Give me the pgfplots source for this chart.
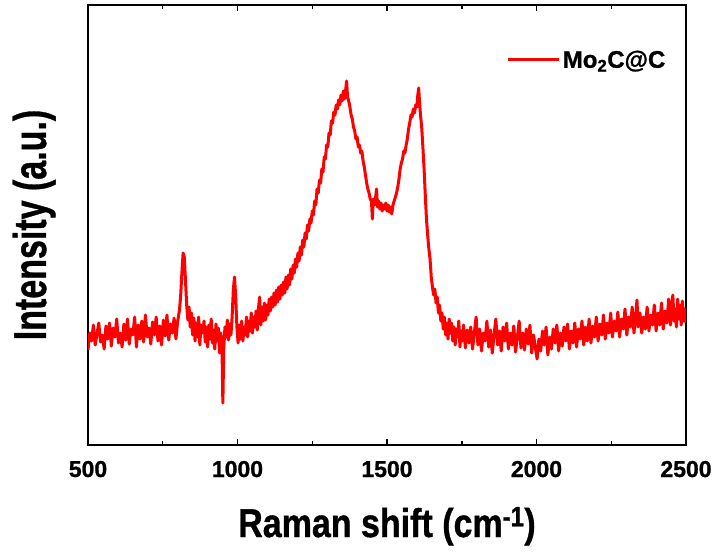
\documentclass[border=0pt]{standalone}
\usepackage{pgfplots}
\pgfplotsset{compat=1.18}
\usepackage{graphicx}
\usepackage{fontspec}
\setmainfont{Liberation Sans}
\newfontfamily\heavy[BoldFeatures={FakeBold=1}]{Liberation Sans}
\begin{document}
\begin{tikzpicture}
\path[use as bounding box] (-88pt,-107pt) rectangle (629pt,445pt);
\begin{axis}[
  at={(0pt,0pt)}, anchor=south west,
  scale only axis, width=598pt, height=440pt,
  xmin=500, xmax=2500, ymin=0, ymax=440,
  xtick={500,1000,1500,2000,2500},
  minor xtick={750,1250,1750,2250},
  ytick=\empty,
  minor ytick={23.1579,46.3158,...,430},
  tick align=inside,
  major tick length=6pt, minor tick length=4pt,
  tick style={line width=1.5pt, black},
  axis line style={line width=2.6pt},
  xtick pos=both, ytick pos=both,
  /pgf/number format/assume math mode=true,
  /pgf/number format/1000 sep={},
  xticklabel style={font=\fontsize{23}{23}\selectfont\heavy\bfseries, anchor=base, yshift=-32pt},
  xlabel={\scalebox{1}[1.18]{Raman shift (cm\textsuperscript{-1})}},
  xlabel style={font=\fontsize{34}{34}\selectfont\heavy\bfseries, at={(axis description cs:0.5,0)}, anchor=base, yshift=-92pt},
  ylabel={\scalebox{1}[1.35]{Intensity (a.u.)}},
  ylabel style={font=\fontsize{34}{34}\selectfont\heavy\bfseries, at={(axis description cs:0,0.5)}, anchor=base, yshift=42pt},
  legend style={draw=none, fill=none, at={(axis description cs:0.700,0.875)}, anchor=west, inner sep=0pt,
    font=\fontsize{24}{24}\selectfont\heavy\bfseries},
  legend cell align=left,
  legend image code/.code={\draw[#1] (0pt,0pt) -- (51pt,0pt);},
]
\addplot[color=red, line width=3pt, line join=round, mark=none] table {
x y
500 95
506 112
512 104
518 120
524 100
530 111
536 122
542 103
548 110
554 96
560 119
566 106
572 122
578 99
584 117
590 108
596 126
602 102
608 112
614 98
620 121
626 105
632 126
638 101
644 116
650 110
656 128
662 98
668 120
674 106
680 124
686 103
692 130
698 108
704 117
710 101
716 123
722 110
728 128
734 104
740 119
746 100
752 125
758 109
764 130
770 105
776 121
782 112
788 127
794 106
800 124
806 135
810 150
814 172
818 192
822 188
826 165
830 140
834 125
838 138
842 118
846 132
850 110
854 127
858 104
862 122
866 108
870 128
874 100
878 120
884 112
888 124
892 103
896 118
900 98
904 120
908 106
912 126
916 102
920 115
924 96
928 121
932 104
936 117
940 92
944 112
948 100
951 42
954 96
958 118
962 108
966 125
970 105
974 121
978 110
982 128
986 155
990 168
994 148
998 118
1002 102
1006 120
1010 106
1014 124
1018 104
1022 118
1026 110
1030 128
1034 108
1038 124
1042 114
1046 132
1050 112
1054 128
1058 118
1062 134
1066 115
1070 136
1074 148
1078 120
1082 138
1086 124
1090 142
1094 125
1098 140
1102 130
1106 146
1110 134
1114 148
1118 138
1122 152
1126 140
1130 155
1134 143
1138 158
1142 146
1146 160
1150 150
1154 163
1158 152
1162 168
1166 156
1170 170
1174 160
1178 176
1182 166
1186 180
1190 172
1194 186
1198 178
1202 192
1206 184
1210 198
1214 190
1218 205
1222 198
1226 212
1230 206
1234 220
1238 214
1242 226
1246 222
1250 234
1254 230
1258 244
1262 240
1266 256
1270 252
1274 265
1278 262
1282 276
1286 273
1290 288
1294 286
1298 300
1302 298
1306 312
1310 310
1314 324
1318 322
1322 333
1326 330
1330 340
1334 336
1338 345
1342 340
1346 350
1350 344
1354 354
1358 346
1362 356
1365 364
1368 348
1372 344
1376 338
1380 330
1384 326
1388 318
1392 314
1396 306
1400 308
1404 298
1408 300
1412 292
1416 294
1420 284
1424 278
1428 270
1432 262
1436 256
1440 252
1444 246
1448 244
1451 226
1454 246
1458 240
1462 248
1465 256
1468 238
1472 244
1476 236
1480 242
1484 234
1488 240
1492 236
1496 242
1500 234
1504 240
1508 233
1512 238
1516 231
1520 240
1524 244
1528 248
1532 252
1536 258
1540 266
1544 276
1548 282
1552 286
1556 294
1560 292
1564 300
1568 306
1572 316
1576 322
1580 330
1584 328
1588 336
1592 332
1596 340
1600 338
1603 350
1606 357
1609 342
1612 330
1616 318
1620 298
1624 276
1628 250
1632 226
1636 210
1640 196
1644 186
1648 168
1652 158
1656 150
1660 156
1664 142
1668 148
1672 132
1676 140
1680 124
1684 132
1688 116
1692 128
1696 110
1700 122
1704 106
1708 126
1712 112
1716 122
1720 104
1724 118
1728 100
1732 116
1736 108
1740 124
1744 98
1748 114
1752 104
1756 120
1762 97
1768 115
1774 102
1780 118
1786 96
1792 112
1798 128
1804 100
1810 116
1816 94
1822 112
1828 104
1834 124
1840 98
1846 115
1852 92
1858 110
1864 126
1870 100
1876 114
1882 94
1888 118
1894 104
1900 122
1906 96
1912 112
1918 100
1924 119
1930 93
1936 108
1942 124
1948 97
1954 112
1960 95
1966 116
1972 101
1978 120
1984 92
1990 110
1996 98
2002 86
2008 106
2014 94
2020 114
2026 100
2032 118
2038 90
2044 108
2050 96
2056 116
2062 102
2068 120
2074 94
2080 112
2086 99
2092 118
2098 104
2104 121
2110 96
2116 114
2122 102
2128 122
2134 98
2140 116
2146 106
2152 124
2158 100
2164 118
2170 104
2176 126
2182 102
2188 119
2194 108
2200 128
2206 104
2212 121
2218 110
2224 130
2230 106
2236 122
2242 112
2248 132
2254 108
2260 124
2266 114
2272 133
2278 108
2284 126
2290 116
2296 136
2302 110
2308 128
2314 118
2320 138
2326 112
2332 130
2336 145
2340 118
2346 132
2352 112
2358 128
2364 116
2370 138
2376 114
2382 130
2388 120
2394 140
2400 114
2406 132
2412 120
2418 142
2424 116
2430 134
2436 122
2442 146
2448 120
2452 138
2456 150
2460 124
2464 136
2468 118
2472 146
2476 126
2480 140
2484 120
2488 144
2492 124
2496 136
2500 122
};
\addlegendentry{Mo\textsubscript{2}C@C}
\end{axis}
\end{tikzpicture}
\end{document}
